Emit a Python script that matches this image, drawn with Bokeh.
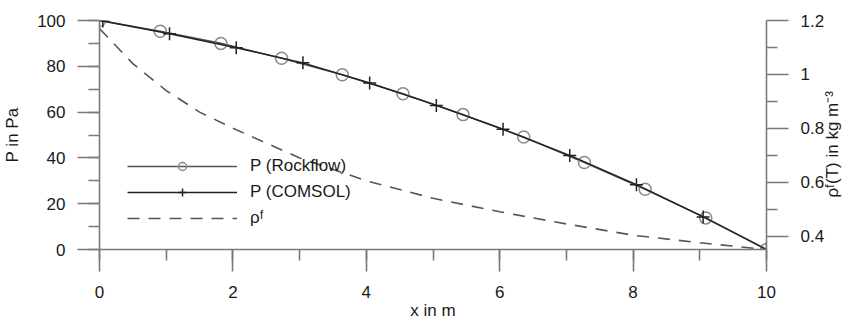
import math
from bokeh.plotting import figure
from bokeh.models import (Range1d, LinearAxis, SingleIntervalTicker, FixedTicker,
                          NumeralTickFormatter, Legend, LegendItem)
from bokeh.embed import file_html
from bokeh.resources import INLINE

# ---- data ----
x_rockflow = [0, 0.91, 1.82, 2.73, 3.64, 4.55, 5.45, 6.36, 7.27, 8.18, 9.09, 10]
p_rockflow = [100, 95.3, 90.0, 83.5, 76.3, 68.0, 58.9, 49.1, 38.0, 26.3, 13.8, 0]

x_comsol = [0.05, 1.05, 2.05, 3.05, 4.05, 5.05, 6.05, 7.05, 8.05, 9.05, 10]
p_comsol = [99.8, 94.2, 88.1, 81.5, 72.7, 62.9, 52.5, 41.1, 28.3, 14.2, 0]

x_rho = [0, 0.5, 1, 1.5, 2, 3, 4, 5, 6, 7, 8, 9, 10]
rho = [1.17, 1.04, 0.94, 0.86, 0.80, 0.69, 0.605, 0.54, 0.49, 0.445, 0.403, 0.375, 0.35]

rho_ticks = [0.4, 0.6, 0.8, 1.0, 1.2]
rho_minor = [0.5, 0.7, 0.9, 1.1]

FONT = "Liberation Sans"
FS = "17px"
AX = "#7a7a7a"
TXT = "#1a1a1a"

p = figure(width=854, height=322, output_backend="svg", toolbar_location=None,
           x_range=Range1d(0, 10), y_range=Range1d(0, 100),
           min_border_left=99, min_border_right=88, min_border_top=20, min_border_bottom=73,
           x_axis_label="x in m", y_axis_label="P in Pa")
p.extra_y_ranges = {"rho": Range1d(0.35, 1.2)}
p.outline_line_color = None
p.xgrid.visible = False
p.ygrid.visible = False
p.background_fill_color = "white"
p.border_fill_color = "white"

p.xaxis.ticker = SingleIntervalTicker(interval=2, num_minor_ticks=2)
p.yaxis.ticker = SingleIntervalTicker(interval=20, num_minor_ticks=2)

right = LinearAxis(y_range_name="rho",
                   ticker=FixedTicker(ticks=rho_ticks, minor_ticks=rho_minor),
                   formatter=NumeralTickFormatter(format="0.[0]"),
                   axis_label="\u00a0" * 11 + "ρᶠ(T) in kg m⁻³")
if "axis_label_orientation" in right.properties():
    right.axis_label_orientation = math.pi / 2
if "axis_label_align" in right.properties():
    right.axis_label_align = "start"
p.add_layout(right, "right")

for ax in [p.xaxis[0], p.yaxis[0], right]:
    ax.axis_line_color = AX
    ax.axis_line_width = 1.6
    ax.major_tick_line_color = AX
    ax.major_tick_line_width = 1.6
    ax.minor_tick_line_color = AX
    ax.minor_tick_line_width = 1.6
    ax.major_tick_out = 22
    ax.major_tick_in = 0
    ax.minor_tick_out = 11
    ax.minor_tick_in = 0
    ax.major_label_text_font = FONT
    ax.major_label_text_font_size = FS
    ax.major_label_text_color = TXT
    ax.axis_label_text_font = FONT
    ax.axis_label_text_font_size = FS
    ax.axis_label_text_font_style = "normal"
    ax.axis_label_text_color = TXT

p.yaxis[0].major_label_standoff = 12
p.yaxis[0].axis_label_standoff = 12
p.xaxis[0].major_label_standoff = 14
p.xaxis[0].axis_label_standoff = 0
right.major_label_standoff = 12
right.axis_label_standoff = 5

# ---- series ----
r_rho = p.line(x_rho, rho, y_range_name="rho", line_color="#555555",
               line_width=1.6, line_dash="12 9")
r_rf_line = p.line(x_rockflow, p_rockflow, line_color="#555555", line_width=1.6)
r_rf_pts = p.scatter(x_rockflow, p_rockflow, marker="circle", size=12,
                     fill_color=None, line_color="#8a8a8a", line_width=1.5)
r_cs_line = p.line(x_comsol, p_comsol, line_color="#222222", line_width=1.4)
r_cs_pts = p.scatter(x_comsol, p_comsol, marker="cross", size=13,
                     line_color="#222222", line_width=1.5)

legend = Legend(items=[
    LegendItem(label="P (Rockflow)", renderers=[r_rf_line, r_rf_pts]),
    LegendItem(label="P (COMSOL)", renderers=[r_cs_line, r_cs_pts]),
    LegendItem(label="ρᶠ", renderers=[r_rho]),
], location=(28, 21))
legend.padding = 0
legend.margin = 0
legend.spacing = 6
legend.glyph_width = 110
legend.glyph_height = 20
legend.label_height = 20
legend.label_standoff = 13
legend.label_text_font = FONT
legend.label_text_font_size = FS
legend.label_text_color = TXT
legend.border_line_color = None
legend.background_fill_alpha = 0
p.add_layout(legend, "center")

open("out.html", "w").write(file_html(p, INLINE))
